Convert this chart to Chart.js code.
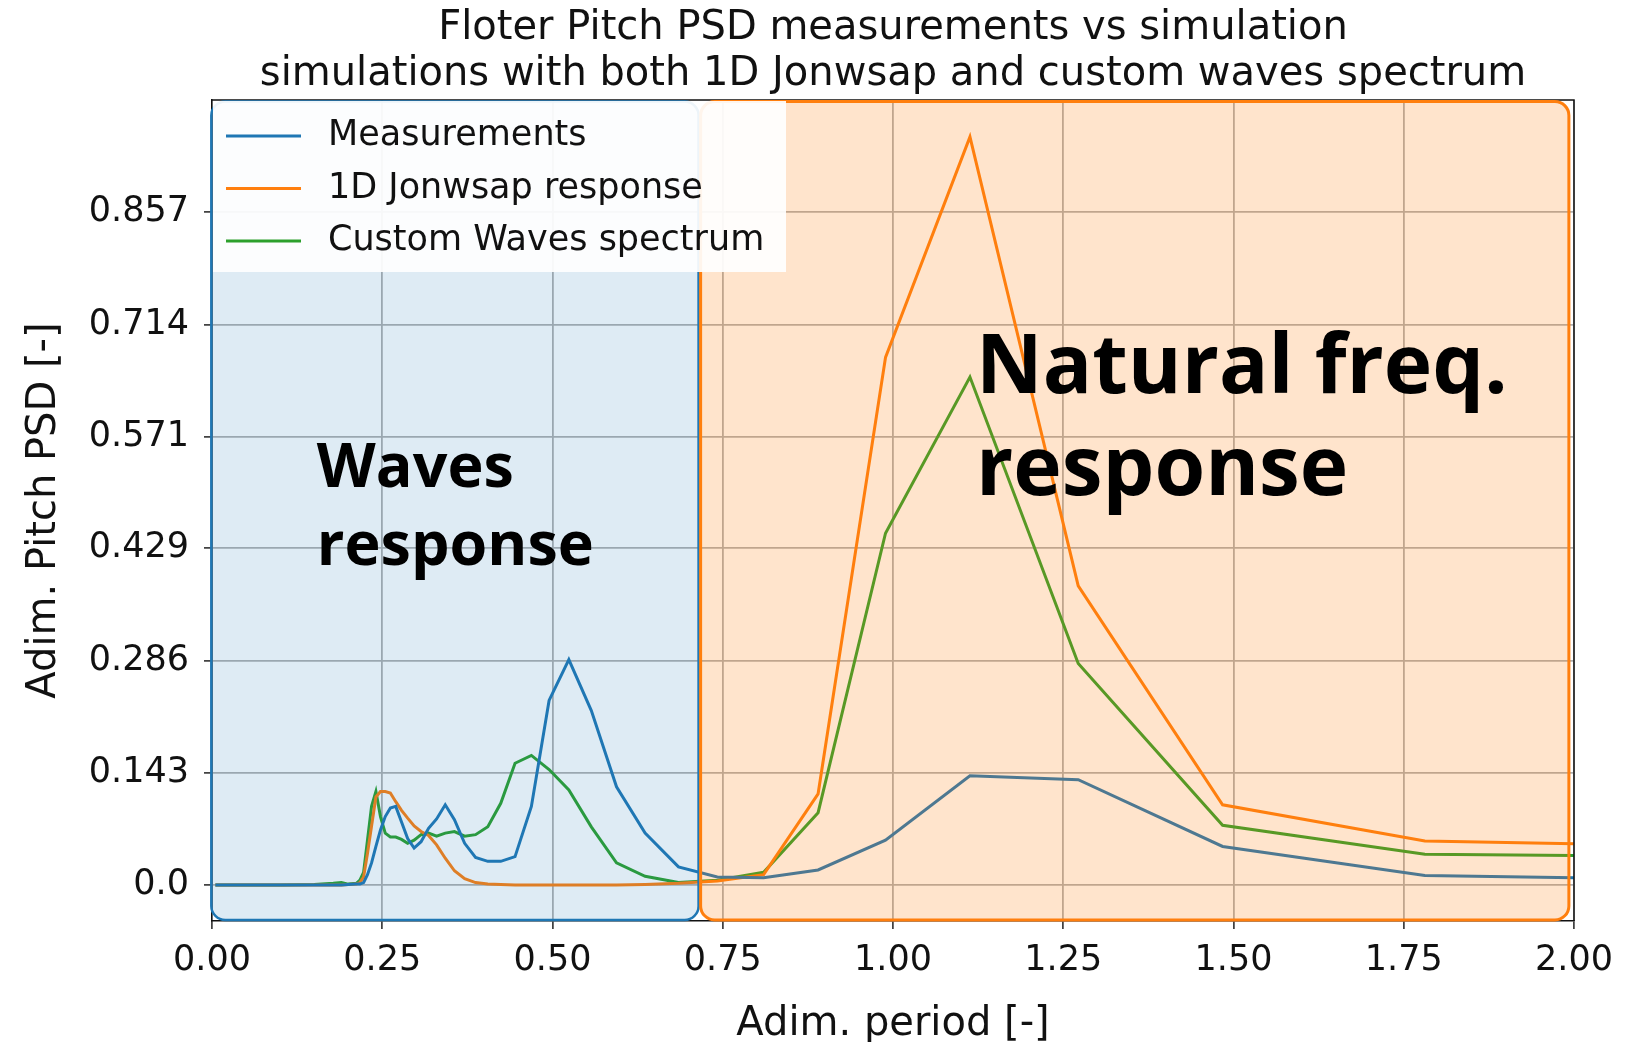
<!DOCTYPE html>
<html>
<head>
<meta charset="utf-8">
<title>Floter Pitch PSD</title>
<script src="https://cdn.jsdelivr.net/npm/chart.js@4.4.1/dist/chart.umd.min.js"></script>
<style>
  html, body { margin: 0; padding: 0; background: #fff; }
  #wrap { width: 1628px; height: 1042px; position: relative; }
</style>
</head>
<body>
<div id="wrap"><canvas id="psdChart"></canvas></div>
<script>
// Adim. period [-] where the PSD curves are sampled
const periods = [0.005, 0.1, 0.15, 0.178, 0.19, 0.2, 0.212, 0.2172, 0.2226, 0.2283,
  0.2343, 0.2407, 0.2474, 0.2544, 0.2619, 0.2698, 0.2783, 0.2873, 0.2968, 0.307,
  0.318, 0.3298, 0.3425, 0.356, 0.371, 0.387, 0.405, 0.424, 0.445, 0.469,
  0.495, 0.524, 0.557, 0.594, 0.636, 0.685, 0.742, 0.810, 0.890, 0.989,
  1.113, 1.272, 1.484, 1.781, 2.226];

// Adim. Pitch PSD [-]
const measurements = [0, 0, 0, 0, 0, 0.0005, 0.001, 0.001, 0.003, 0.013,
  0.028, 0.049, 0.070, 0.087, 0.098, 0.100, 0.080, 0.059, 0.047, 0.055,
  0.072, 0.084, 0.102, 0.083, 0.053, 0.035, 0.030, 0.030, 0.036, 0.100,
  0.235, 0.287, 0.222, 0.125, 0.066, 0.023, 0.010, 0.009, 0.019, 0.057,
  0.139, 0.134, 0.049, 0.012, 0.006];

const jonswapResponse = [0, 0, 0, 0, 0, 0.0005, 0.001, 0.003, 0.010, 0.040,
  0.075, 0.112, 0.119, 0.119, 0.117, 0.106, 0.095, 0.085, 0.075, 0.068,
  0.063, 0.051, 0.034, 0.018, 0.008, 0.003, 0.001, 0.0005, 0, 0,
  0, 0, 0, 0, 0.0005, 0.002, 0.005, 0.013, 0.116, 0.672,
  0.953, 0.381, 0.102, 0.056, 0.049];

const customWaves = [0, 0, 0.0005, 0.002, 0.003, 0.001, 0.002, 0.006, 0.016, 0.057,
  0.100, 0.119, 0.087, 0.066, 0.061, 0.061, 0.058, 0.053, 0.057, 0.064,
  0.066, 0.062, 0.066, 0.068, 0.062, 0.064, 0.074, 0.104, 0.155, 0.165,
  0.147, 0.121, 0.074, 0.028, 0.011, 0.003, 0.006, 0.016, 0.092, 0.448,
  0.647, 0.282, 0.076, 0.039, 0.036];

const seriesLabels = ['Measurements', '1D Jonwsap response', 'Custom Waves spectrum'];
const seriesColors = ['#1f77b4', '#ff7f0e', '#2ca02c'];

const xTickValues = [0, 0.25, 0.5, 0.75, 1.0, 1.25, 1.5, 1.75, 2.0];
const xTickLabels = ['0.00', '0.25', '0.50', '0.75', '1.00', '1.25', '1.50', '1.75', '2.00'];
const yTickValues = [0, 0.143, 0.286, 0.429, 0.571, 0.714, 0.857];
const yTickLabels = ['0.0', '0.143', '0.286', '0.429', '0.571', '0.714', '0.857'];

const titleLines = ['Floter Pitch PSD measurements vs simulation',
  'simulations with both 1D Jonwsap and custom waves spectrum'];
const wavesNote = ['Waves', 'response'];
const naturalNote = ['Natural freq.', 'response'];

function toPoints(values) {
  return periods.map((p, i) => ({ x: p, y: values[i] }));
}

function roundBox(ctx, x0, y0, x1, y1, r) {
  ctx.beginPath();
  ctx.moveTo(x0 + r, y0);
  ctx.lineTo(x1 - r, y0);
  ctx.arcTo(x1, y0, x1, y0 + r, r);
  ctx.lineTo(x1, y1 - r);
  ctx.arcTo(x1, y1, x1 - r, y1, r);
  ctx.lineTo(x0 + r, y1);
  ctx.arcTo(x0, y1, x0, y1 - r, r);
  ctx.lineTo(x0, y0 + r);
  ctx.arcTo(x0, y0, x0 + r, y0, r);
  ctx.closePath();
}

// shaded regions, legend and the two notes go on top of the curves
const overlays = {
  id: 'overlays',
  afterDatasetsDraw(chart) {
    const { ctx, chartArea: a, scales: { x, y } } = chart;
    ctx.save();

    // top and right spines
    ctx.strokeStyle = '#111';
    ctx.lineWidth = 1.5;
    ctx.beginPath();
    ctx.moveTo(a.left, a.top);
    ctx.lineTo(a.right, a.top);
    ctx.lineTo(a.right, a.bottom);
    ctx.stroke();

    const regions = [
      { x0: -0.001, x1: 0.7145, fill: 'rgba(31,119,180,0.15)', edge: '#1f77b4', w: 2.5 },
      { x0: 0.7175, x1: 1.9925, fill: 'rgba(255,127,14,0.21)', edge: '#ff7f0e', w: 3 }
    ];
    regions.forEach(r => {
      const px0 = x.getPixelForValue(r.x0), px1 = x.getPixelForValue(r.x1);
      const py0 = y.getPixelForValue(0.998), py1 = y.getPixelForValue(-0.0446);
      roundBox(ctx, px0, py0, px1, py1, 14);
      ctx.fillStyle = r.fill;
      ctx.fill();
      ctx.strokeStyle = r.edge;
      ctx.lineWidth = r.w;
      ctx.stroke();
    });

    // legend
    ctx.fillStyle = 'rgba(255,255,255,0.92)';
    ctx.fillRect(a.left + 1, a.top + 1, 573, 171);
    ctx.font = '35px "DejaVu Sans"';
    ctx.textBaseline = 'middle';
    ctx.textAlign = 'left';
    chart.data.datasets.forEach((ds, i) => {
      const ry = a.top + 36 + i * 52.5;
      ctx.strokeStyle = ds.borderColor;
      ctx.lineWidth = 3;
      ctx.beginPath();
      ctx.moveTo(a.left + 14, ry);
      ctx.lineTo(a.left + 89, ry);
      ctx.stroke();
      ctx.fillStyle = '#111';
      ctx.fillText(ds.label, a.left + 116, ry);
    });

    // region notes
    ctx.fillStyle = '#000';
    ctx.textBaseline = 'alphabetic';
    ctx.font = 'bold 61px "Open Sans"';
    ctx.fillText(wavesNote[0], x.getPixelForValue(0.154), y.getPixelForValue(0.507));
    ctx.fillText(wavesNote[1], x.getPixelForValue(0.154), y.getPixelForValue(0.4075));
    ctx.font = 'bold 82px "Open Sans"';
    ctx.fillText(naturalNote[0], x.getPixelForValue(1.122), y.getPixelForValue(0.6265));
    ctx.fillText(naturalNote[1], x.getPixelForValue(1.122), y.getPixelForValue(0.4966));

    ctx.restore();
  }
};

Chart.defaults.font.family = '"DejaVu Sans", sans-serif';
Chart.defaults.color = '#111';

new Chart(document.getElementById('psdChart'), {
  type: 'line',
  data: {
    datasets: [
      { label: seriesLabels[0], data: toPoints(measurements), borderColor: seriesColors[0] },
      { label: seriesLabels[1], data: toPoints(jonswapResponse), borderColor: seriesColors[1] },
      { label: seriesLabels[2], data: toPoints(customWaves), borderColor: seriesColors[2] }
    ]
  },
  options: {
    responsive: true,
    maintainAspectRatio: false,
    devicePixelRatio: 1,
    animation: false,
    layout: { padding: { left: 0, right: 54, top: 0, bottom: 0 } },
    elements: {
      line: { borderWidth: 3, tension: 0, fill: false },
      point: { radius: 0, hoverRadius: 0 }
    },
    plugins: {
      legend: { display: false },
      tooltip: { enabled: false },
      title: {
        display: true,
        fullSize: false,
        text: titleLines,
        color: '#111',
        font: { size: 40, weight: 'normal', lineHeight: 1.15 },
        padding: { top: 6, bottom: 2 }
      }
    },
    scales: {
      x: {
        type: 'linear',
        min: 0,
        max: 2,
        afterBuildTicks: s => { s.ticks = xTickValues.map(v => ({ value: v })); },
        afterFit: s => { s.height = 121; },
        ticks: {
          callback: (v, i) => xTickLabels[i],
          font: { size: 35 },
          padding: 11,
          maxRotation: 0,
          autoSkip: false
        },
        grid: { color: '#b0b0b0', lineWidth: 1.8, tickLength: 8, tickColor: '#222', tickWidth: 1.5 },
        border: { color: '#111', width: 1.5 },
        title: {
          display: true,
          text: 'Adim. period [-]',
          font: { size: 40, lineHeight: 0.86 },
          padding: { top: 0, bottom: 0 }
        }
      },
      y: {
        type: 'linear',
        min: -0.046,
        max: 1.0,
        afterBuildTicks: s => { s.ticks = yTickValues.map(v => ({ value: v })); },
        afterFit: s => { s.width = 212; },
        ticks: {
          callback: (v, i) => yTickLabels[i],
          font: { size: 35 },
          padding: 15
        },
        grid: { color: '#b0b0b0', lineWidth: 1.8, tickLength: 8, tickColor: '#222', tickWidth: 1.5 },
        border: { color: '#111', width: 1.5 },
        title: {
          display: true,
          text: 'Adim. Pitch PSD [-]',
          font: { size: 40, lineHeight: 1.2 },
          padding: { top: 21, bottom: 0 }
        }
      }
    }
  },
  plugins: [overlays]
});
</script>
</body>
</html>
